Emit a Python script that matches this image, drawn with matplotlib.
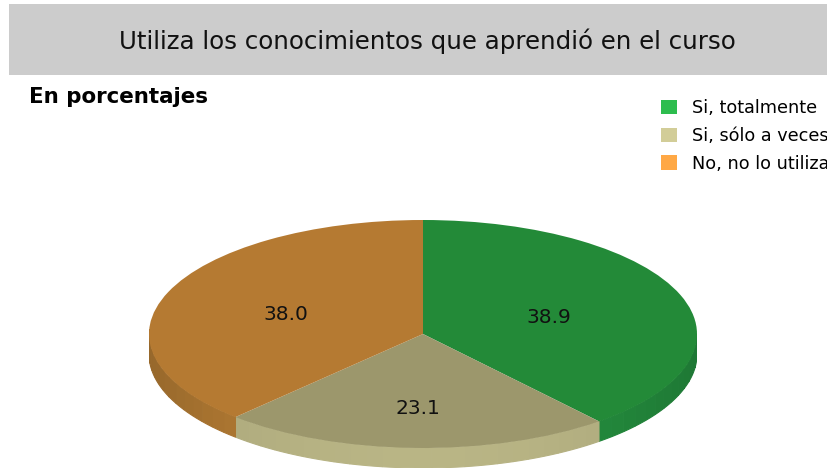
import numpy as np
import matplotlib.pyplot as plt
from matplotlib.colors import to_rgb
from matplotlib.patches import Patch, Rectangle

# Data
categories = ['Si, totalmente', 'Si, sólo a veces', 'No, no lo utiliza']
values = [38.9, 23.1, 38.0]
value_labels = ['38.9', '23.1', '38.0']

top_colors = ['#238a38', '#9c976c', '#b57a32']
side_colors = ['#259240', '#b9b585', '#bd8236']
side_fade = [0.18, 0.10, 0.20]
legend_colors = ['#2dbd4e', '#d2cd98', '#ffa845']
label_radius = [0.49, 0.63, 0.54]

W, H = 827, 468
fig = plt.figure(figsize=(W / 100, H / 100), dpi=100)

# Grey title band
bg = fig.add_axes([0, 0, 1, 1])
bg.set_xlim(0, W)
bg.set_ylim(H, 0)
bg.axis('off')
bg.add_patch(Rectangle((9, 4), W - 9, 71, color='#cccccc', lw=0))
bg.text(427, 41, 'Utiliza los conocimientos que aprendió en el curso',
        ha='center', va='center', fontsize=17.65, family='DejaVu Sans', color='#111111')
bg.text(29, 97, 'En porcentajes', ha='left', va='center', fontsize=15.4,
        fontweight='bold', family='DejaVu Sans', color='black')

# Pie axes: x -1..1 spans the ellipse, y squashed, extra room under it for the side
cx, cy, rx, ry = 423, 334, 274, 114
depth = 20 / ry
ax = fig.add_axes([(cx - rx) / W, 0, 2 * rx / W, (cy + ry - 220 + 20) / H])
ax.set_zorder(2)

# Side wall, cut in short strips so the shade changes along the rim
start = 90.0
for val, col, fade in zip(values, side_colors, side_fade):
    end = start - val * 3.6
    angles = np.radians(np.linspace(start, end, int(val) + 2))
    for a0, a1 in zip(angles[:-1], angles[1:]):
        mid = (a0 + a1) / 2
        if np.sin(mid) > 0.02:
            continue
        shade = 1.0 - fade * abs(np.cos(mid)) ** 2
        xs = np.cos(np.linspace(a0, a1, 8))
        ys = np.sin(np.linspace(a0, a1, 8))
        ax.fill(np.r_[xs, xs[::-1]], np.r_[ys, ys[::-1] - depth],
                color=np.array(to_rgb(col)) * shade, lw=0.8)
    start = end

ax.pie(values, colors=top_colors, startangle=90, counterclock=False, radius=1,
       center=(0, 0), frame=False, wedgeprops={'linewidth': 0})
ax.set_aspect('auto')
ax.set_xlim(-1, 1)
ax.set_ylim(-1 - depth, 1)
ax.axis('off')

# Value labels along the middle of each slice
start = 90.0
for val, lab, r in zip(values, value_labels, label_radius):
    mid = np.radians(start - val * 1.8)
    ax.text(r * np.cos(mid), r * np.sin(mid) - 0.025, lab,
            ha='center', va='center', fontsize=14.5, family='DejaVu Sans', color='#111111')
    start -= val * 3.6

# Legend runs past the right edge of the picture, as in the original
handles = [Patch(color=c, lw=0) for c in legend_colors]
fig.legend(handles, categories, loc='upper left', bbox_to_anchor=(652 / W, 1 - 90 / H),
           frameon=False, prop={'family': 'DejaVu Sans', 'size': 12.7},
           handlelength=0.9, handleheight=0.85, handletextpad=0.87, labelspacing=0.56,
           borderpad=0.5, borderaxespad=0)

plt.savefig('out.png', dpi=100)
